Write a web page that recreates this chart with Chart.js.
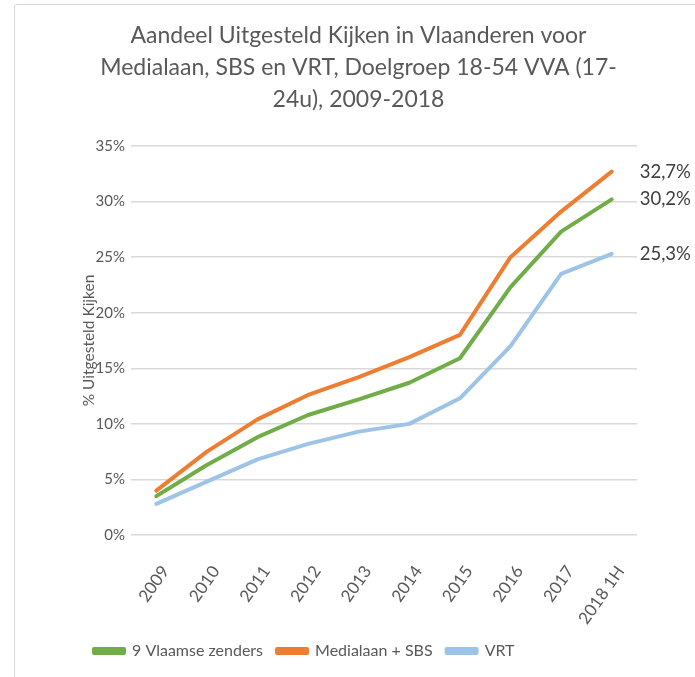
<!DOCTYPE html>
<html>
<head>
<meta charset="utf-8">
<script src="https://cdn.jsdelivr.net/npm/chart.js@4"></script>
<style>
    html, body { margin: 0; padding: 0; background: #fff; overflow: hidden; }
    .wrap { position: relative; width: 695px; height: 677px; overflow: hidden; }
    .frame { position: absolute; left: 14px; top: 4px; width: 720px; height: 720px; border: 1px solid #d9d9d9; border-radius: 3px; box-sizing: border-box; }
    canvas { position: absolute; left: 0; top: 0; }
</style>
</head>
<body>
<div class="wrap">
    <div class="frame"></div>
    <canvas id="chart" width="695" height="677"></canvas>
</div>
<script>
// ===== DATA =====
const years = ['2009', '2010', '2011', '2012', '2013', '2014', '2015', '2016', '2017', '2018 1H'];
const vlaamseZenders = [3.5, 6.3, 8.8, 10.8, 12.2, 13.7, 15.9, 22.3, 27.3, 30.2];
const medialaanSbs = [4.0, 7.5, 10.4, 12.6, 14.2, 16.0, 18.0, 25.0, 29.1, 32.7];
const vrt = [2.8, 4.8, 6.8, 8.2, 9.3, 10.0, 12.3, 17.0, 23.5, 25.3];
const yTicks = [0, 5, 10, 15, 20, 25, 30, 35];

const FONT = 'Lato, "Open Sans", sans-serif';
const TEXT = '#595959';

function line(label, data, color) {
    return {
        label: label,
        data: data,
        borderColor: color,
        backgroundColor: color,
        borderWidth: 4,
        pointRadius: 0,
        tension: 0,
        borderCapStyle: 'round',
        borderJoinStyle: 'round'
    };
}

// ===== END LABELS =====
const endLabels = {
    id: 'endLabels',
    afterDatasetsDraw(chart) {
        const ctx = chart.ctx;
        ctx.save();
        ctx.font = '18.5px ' + FONT;
        ctx.fillStyle = '#404040';
        ctx.textAlign = 'left';
        ctx.textBaseline = 'middle';
        chart.data.datasets.forEach((ds, i) => {
            const meta = chart.getDatasetMeta(i);
            const last = meta.data[meta.data.length - 1];
            const v = ds.data[ds.data.length - 1];
            ctx.fillText(v.toFixed(1).replace('.', ',') + '%', last.x + 28, last.y);
        });
        ctx.restore();
    }
};

new Chart(document.getElementById('chart'), {
    type: 'line',
    data: {
        labels: years,
        datasets: [
            line('9 Vlaamse zenders', vlaamseZenders, '#70ad47'),
            line('Medialaan + SBS', medialaanSbs, '#ed7d31'),
            line('VRT', vrt, '#9dc3e6')
        ]
    },
    options: {
        responsive: false,
        animation: false,
        layout: { padding: { left: 80, right: 58, top: 0, bottom: 8 } },
        plugins: {
            title: {
                display: true,
                text: ['Aandeel Uitgesteld Kijken in Vlaanderen voor', 'Medialaan, SBS en VRT, Doelgroep 18-54 VVA (17-', '24u), 2009-2018'],
                color: TEXT,
                font: { family: FONT, size: 23, weight: 'normal', lineHeight: 1.4 },
                padding: { top: 19, bottom: 30.4 }
            },
            legend: {
                position: 'bottom',
                align: 'start',
                labels: {
                    color: TEXT,
                    font: { family: FONT, size: 16 },
                    boxWidth: 30,
                    boxHeight: 4,
                    padding: 14
                }
            },
            tooltip: { enabled: false }
        },
        scales: {
            x: {
                offset: true,
                afterFit(scale) { scale.height = 94; },
                grid: { display: false },
                border: { display: false },
                ticks: {
                    color: TEXT,
                    font: { family: FONT, size: 17 },
                    minRotation: 55,
                    maxRotation: 55,
                    padding: 19,
                    labelOffset: 9
                }
            },
            y: {
                min: 0,
                max: 35,
                afterFit(scale) { scale.width = 51; },
                afterBuildTicks(scale) { scale.ticks = yTicks.map(v => ({ value: v })); },
                grid: { color: '#d9d9d9', lineWidth: 1.5, drawTicks: false },
                border: { display: false },
                ticks: {
                    color: TEXT,
                    font: { family: FONT, size: 15 },
                    padding: 6,
                    callback: v => v + '%'
                },
                title: {
                    display: true,
                    text: '% Uitgesteld Kijken',
                    color: TEXT,
                    font: { family: FONT, size: 15.5 },
                    padding: 0
                }
            }
        }
    },
    plugins: [endLabels]
});
</script>
</body>
</html>
